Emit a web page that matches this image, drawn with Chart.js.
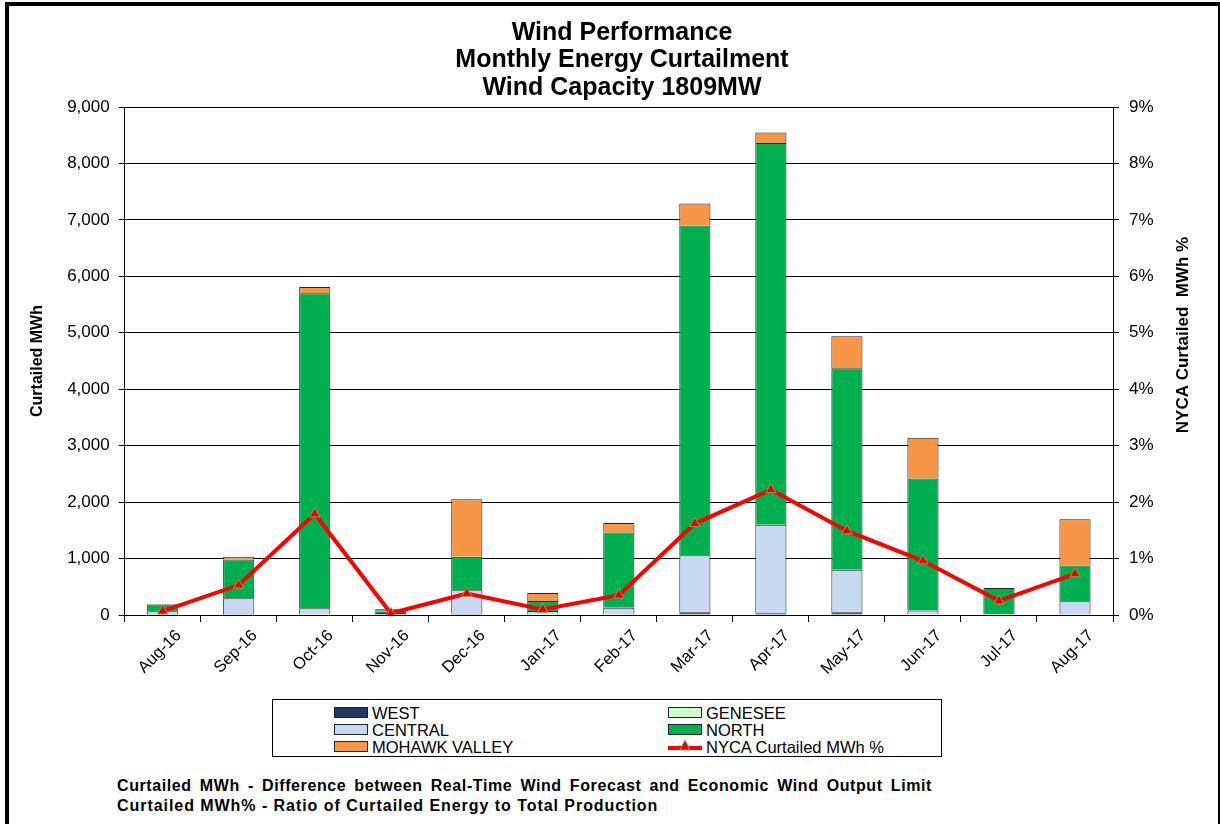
<!DOCTYPE html>
<html>
<head>
<meta charset="utf-8">
<script src="https://cdn.jsdelivr.net/npm/chart.js@4.4.1/dist/chart.umd.min.js"></script>
<style>
    html, body { margin: 0; padding: 0; background: #fff; overflow: hidden; }
    body { width: 1220px; height: 824px; position: relative; font-family: "Liberation Sans", Arial, sans-serif; }
    .frame { position: absolute; left: 5px; top: 2px; width: 1209px; height: 900px;
             border-left: 4px solid #000; border-top: 4px solid #000; border-right: 2px solid #000; }
    .chart-box { position: absolute; left: 0; top: 0; width: 1220px; height: 690px; }
    .legend { position: absolute; left: 272px; top: 699px; width: 668px; height: 56px; border: 1px solid #000; }
    .legend-item { position: absolute; height: 18px; font-size: 16.5px; line-height: 18px; color: #000; }
    .legend-item .sw { position: absolute; left: 0; top: 3px; width: 32px; height: 9px; border: 1px solid #222; }
    .legend-item .txt { position: absolute; left: 38px; top: 0; white-space: nowrap; }
    .footer { position: absolute; left: 117px; font-weight: bold; font-size: 16px; letter-spacing: 0.95px; color: #000; white-space: nowrap; }
    .footer.l1 { top: 777px; width: 815px; text-align: justify; text-align-last: justify; white-space: normal; letter-spacing: 0.6px; }
    .footer.l2 { top: 797px; }
</style>
</head>
<body>
<div class="frame"></div>
<div class="chart-box"><canvas id="windChart" width="1220" height="690"></canvas></div>
<div class="legend" id="legend"></div>
<div class="footer l1">Curtailed MWh - Difference between Real-Time Wind Forecast and Economic Wind Output Limit</div>
<div class="footer l2">Curtailed MWh% - Ratio of Curtailed Energy to Total Production</div>

<script>
// Data
const months = ['Aug-16', 'Sep-16', 'Oct-16', 'Nov-16', 'Dec-16', 'Jan-17', 'Feb-17',
                'Mar-17', 'Apr-17', 'May-17', 'Jun-17', 'Jul-17', 'Aug-17'];
const west    = [5, 5, 0, 60, 20, 10, 10, 50, 30, 50, 10, 0, 15];
const genesee = [0, 0, 0, 0, 0, 0, 0, 0, 0, 0, 0, 0, 0];
const central = [60, 290, 120, 0, 420, 60, 120, 1010, 1570, 750, 70, 0, 230];
const north   = [120, 690, 5580, 40, 590, 180, 1330, 5840, 6760, 3570, 2340, 480, 630];
const mohawk  = [10, 45, 110, 0, 1020, 140, 170, 390, 190, 570, 720, 0, 820];
const nycaPct = [0.07, 0.53, 1.79, 0.03, 0.38, 0.10, 0.35, 1.62, 2.22, 1.49, 0.96, 0.25, 0.73];

const leftTicks = { min: 0, max: 9000, step: 1000 };
const rightTicks = { min: 0, max: 9, step: 1 };

const titleLines = ['Wind Performance', 'Monthly Energy Curtailment', 'Wind Capacity 1809MW'];

const FONT = '"Liberation Sans", Arial, sans-serif';

function barSet(label, data, color) {
    return {
        type: 'bar',
        label: label,
        data: data,
        backgroundColor: color,
        borderColor: '#222',
        borderWidth: 1,
        stack: 'zones',
        yAxisID: 'y',
        order: 1,
        barPercentage: 0.41,
        categoryPercentage: 1.0
    };
}

const datasets = [
    barSet('WEST', west, '#1f3864'),
    barSet('GENESEE', genesee, '#ccffcc'),
    barSet('CENTRAL', central, '#c6d9f0'),
    barSet('NORTH', north, '#00b050'),
    barSet('MOHAWK VALLEY', mohawk, '#f79646'),
    {
        type: 'line',
        label: 'NYCA Curtailed MWh %',
        data: nycaPct,
        yAxisID: 'y1',
        borderColor: '#ff0000',
        backgroundColor: '#ff0000',
        borderWidth: 4,
        tension: 0,
        pointStyle: 'triangle',
        pointRadius: 6,
        pointBackgroundColor: '#ee0000',
        pointBorderColor: '#9c9a52',
        pointBorderWidth: 1,
        order: 0
    }
];

// right axis title reads bottom-to-top, so draw it by hand
const rightTitle = {
    id: 'rightTitle',
    afterDraw(chart) {
        const ctx = chart.ctx;
        ctx.save();
        ctx.translate(1183, 335);
        ctx.rotate(-Math.PI / 2);
        ctx.font = 'bold 17px ' + FONT;
        ctx.fillStyle = '#000';
        ctx.textAlign = 'center';
        ctx.textBaseline = 'middle';
        ctx.fillText('NYCA Curtailed  MWh %', 0, 0);
        ctx.restore();
    }
};

new Chart(document.getElementById('windChart'), {
    data: { labels: months, datasets: datasets },
    plugins: [rightTitle],
    options: {
        responsive: false,
        animation: false,
        layout: { padding: { left: 24, right: 0, top: 19, bottom: 0 } },
        plugins: {
            legend: { display: false },
            tooltip: { enabled: false },
            title: {
                display: true,
                text: titleLines,
                color: '#000',
                font: { family: FONT, size: 25, weight: 'bold', lineHeight: 1.1 },
                padding: { top: 0, bottom: 5.5 }
            }
        },
        scales: {
            x: {
                stacked: true,
                offset: true,
                grid: { display: true, drawOnChartArea: false, offset: true, color: '#000', tickLength: 7 },
                border: { display: true, color: '#000', width: 1 },
                ticks: {
                    color: '#000',
                    font: { family: FONT, size: 16.5 },
                    minRotation: 45,
                    maxRotation: 45,
                    padding: 4,
                    labelOffset: 16
                },
                afterFit: scale => { scale.height = 75; }
            },
            y: {
                stacked: true,
                position: 'left',
                min: leftTicks.min,
                max: leftTicks.max,
                grid: { color: '#000', lineWidth: 1, tickLength: 6 },
                border: { display: true, color: '#000', width: 1 },
                ticks: {
                    stepSize: leftTicks.step,
                    color: '#000',
                    padding: 9,
                    font: { family: FONT, size: 17 },
                    callback: v => v.toLocaleString('en-US')
                },
                title: {
                    display: true,
                    text: 'Curtailed MWh',
                    color: '#000',
                    font: { family: FONT, size: 16, weight: 'bold' },
                    padding: { top: 4, bottom: 4 }
                },
                afterFit: scale => { scale.width = 100.7; }
            },
            y1: {
                position: 'right',
                min: rightTicks.min,
                max: rightTicks.max,
                grid: { drawOnChartArea: false, color: '#000', tickLength: 6 },
                border: { display: true, color: '#000', width: 1 },
                ticks: {
                    stepSize: rightTicks.step,
                    color: '#000',
                    padding: 10,
                    font: { family: FONT, size: 17 },
                    callback: v => v + '%'
                },
                afterFit: scale => { scale.width = 107; }
            }
        }
    }
});

// HTML legend box, two columns like the original
const legendSpots = [
    { left: 61, top: 4 }, { left: 395, top: 4 },
    { left: 61, top: 21 }, { left: 395, top: 21 },
    { left: 61, top: 38 }, { left: 395, top: 38 }
];
const legendEl = document.getElementById('legend');
datasets.forEach((ds, i) => {
    const item = document.createElement('div');
    item.className = 'legend-item';
    item.style.left = legendSpots[i].left + 'px';
    item.style.top = legendSpots[i].top + 'px';
    let swatch;
    if (ds.type === 'line') {
        swatch = '<svg class="sw" style="border:none;top:0;height:16px;width:34px" width="34" height="16">' +
            '<line x1="0" y1="10" x2="34" y2="10" stroke="#ff0000" stroke-width="4"/>' +
            '<polygon points="17,2 22,12 12,12" fill="#ee0000" stroke="#9c9a52" stroke-width="1"/></svg>';
    } else {
        swatch = '<div class="sw" style="background:' + ds.backgroundColor + '"></div>';
    }
    item.innerHTML = swatch + '<span class="txt">' + ds.label + '</span>';
    legendEl.appendChild(item);
});
</script>
</body>
</html>
